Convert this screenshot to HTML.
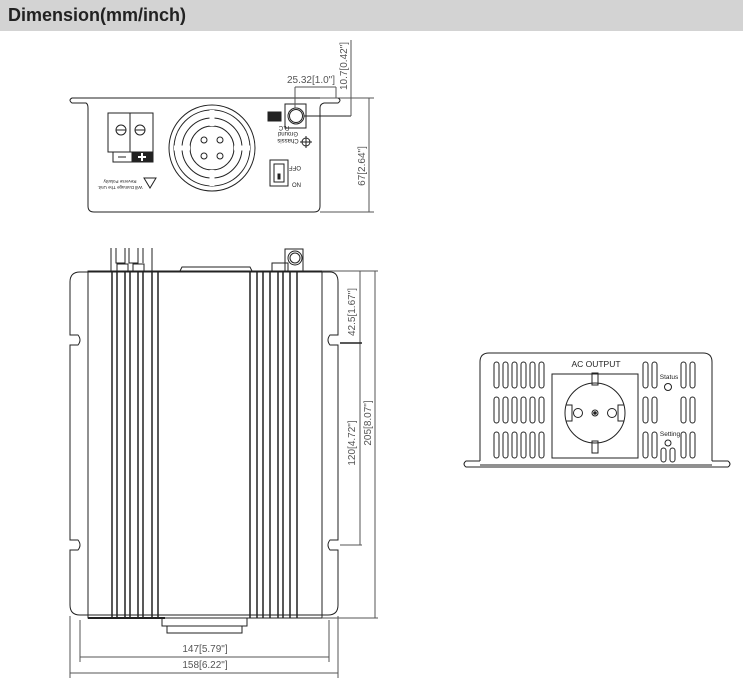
<!DOCTYPE html>
<html><head><style>
body{margin:0;background:#fff;width:743px;height:683px;overflow:hidden;font-family:"Liberation Sans",sans-serif}
.hd{position:absolute;left:0;top:0;width:743px;height:31px;background:#d3d3d3}
.hd span{position:absolute;left:8px;top:5px;font-weight:bold;font-size:18px;color:#222}
svg{position:absolute;left:0;top:0}
</style></head><body>
<div class="hd"><span>Dimension(mm/inch)</span></div>
<svg width="743" height="683" viewBox="0 0 743 683" fill="none" stroke="#222" stroke-width="1">
<!-- TOP VIEW -->
<path d="M88 98 L72 98 Q68 100 72 103 L86 103 Q88 104 88 108 L88 206 Q88 212 94 212 L314 212 Q320 212 320 206 L320 108 Q320 104 324 103 L338 103 Q342 100 338 98 Z" />
<line x1="88" y1="98" x2="320" y2="98"/>
<rect x="108" y="113" width="45" height="39"/>
<line x1="130" y1="113" x2="130" y2="152"/>
<circle cx="121" cy="130" r="5"/><line x1="116" y1="130" x2="126" y2="130"/>
<circle cx="140" cy="130" r="5"/><line x1="135" y1="130" x2="145" y2="130"/>
<rect x="113" y="152" width="40" height="10"/>
<rect x="132" y="152" width="21" height="10" fill="#222"/>
<line x1="118" y1="157" x2="126" y2="157"/>
<line x1="138" y1="157" x2="146" y2="157" stroke="#fff" stroke-width="2"/><line x1="142" y1="153" x2="142" y2="161" stroke="#fff" stroke-width="2"/>
<path d="M144 178 L156 178 L150 188 Z"/>
<text x="0" y="0" font-size="4.5" fill="#222" stroke="none" text-anchor="middle" transform="translate(120 180) rotate(180)">Reverse Polarity</text>
<text x="0" y="0" font-size="4.5" fill="#222" stroke="none" text-anchor="middle" transform="translate(120 186) rotate(180)">Will Damage The Unit.</text>
<circle cx="212" cy="148" r="43"/><circle cx="212" cy="148" r="38"/>
<circle cx="212" cy="148" r="30"/><circle cx="212" cy="148" r="22"/>
<line x1="212" y1="110" x2="212" y2="126" stroke-width="5" stroke="#fff"/>
<line x1="212" y1="170" x2="212" y2="186" stroke-width="5" stroke="#fff"/>
<line x1="174" y1="148" x2="190" y2="148" stroke-width="5" stroke="#fff"/>
<line x1="234" y1="148" x2="250" y2="148" stroke-width="5" stroke="#fff"/>
<circle cx="204" cy="140" r="3"/><circle cx="220" cy="140" r="3"/><circle cx="204" cy="156" r="3"/><circle cx="220" cy="156" r="3"/>
<rect x="270" y="160" width="18" height="26"/><rect x="274" y="164" width="10" height="18"/><rect x="278" y="174" width="2" height="5" fill="#222"/>
<text x="0" y="0" font-size="6" fill="#222" stroke="none" text-anchor="middle" transform="translate(295 166) rotate(180)">OFF</text>
<text x="292" y="187" font-size="6" fill="#222" stroke="none">ON</text>
<rect x="285" y="104" width="21" height="24"/><circle cx="296" cy="116" r="8"/><circle cx="296" cy="116" r="6.5"/>
<rect x="268" y="112" width="13" height="9" fill="#222"/>
<text x="0" y="0" font-size="6" fill="#222" stroke="none" text-anchor="middle" transform="translate(284 126) rotate(180)">R.C</text>
<text x="0" y="0" font-size="6" fill="#222" stroke="none" text-anchor="middle" transform="translate(288 132) rotate(180)">Ground</text>
<text x="0" y="0" font-size="6" fill="#222" stroke="none" text-anchor="middle" transform="translate(288 139) rotate(180)">Chassis</text>
<circle cx="306" cy="142" r="4"/><line x1="300" y1="142" x2="312" y2="142"/><line x1="306" y1="136" x2="306" y2="148"/>
<line x1="295" y1="108" x2="295" y2="87" stroke="#555"/><line x1="336" y1="87" x2="336" y2="98" stroke="#555"/><line x1="295" y1="87" x2="336" y2="87" stroke="#555"/>
<text x="311" y="83" font-size="10" fill="#555" stroke="none" text-anchor="middle">25.32[1.0"]</text>
<line x1="304" y1="116" x2="351" y2="116"/><line x1="351" y1="116" x2="351" y2="40" stroke="#555"/>
<text x="0" y="0" font-size="10" fill="#555" stroke="none" text-anchor="middle" transform="translate(347 66) rotate(-90)">10.7[0.42"]</text>
<line x1="320" y1="98" x2="374" y2="98" stroke="#555"/><line x1="320" y1="212" x2="374" y2="212" stroke="#555"/>
<line x1="369" y1="98" x2="369" y2="212" stroke="#555"/>
<text x="0" y="0" font-size="10" fill="#555" stroke="none" text-anchor="middle" transform="translate(365 166) rotate(-90)">67[2.64"]</text>
<!-- MAIN VIEW -->
<path d="M80 272 L330 272 Q338 272 338 282 L338 335 L330 335 Q326 340 330 345 L338 345 L338 540 L330 540 Q326 545 330 550 L338 550 L338 605 Q338 615 328 615 L80 615 Q70 615 70 605 L70 550 L78 550 Q82 545 78 540 L70 540 L70 345 L78 345 Q82 340 78 335 L70 335 L70 282 Q70 272 80 272 Z"/>
<rect x="88" y="271" width="234" height="347"/>
<g stroke-width="1.5">
<line x1="112" y1="271" x2="112" y2="618"/><line x1="117" y1="271" x2="117" y2="618"/><line x1="125" y1="271" x2="125" y2="618"/><line x1="130" y1="271" x2="130" y2="618"/><line x1="138" y1="271" x2="138" y2="618"/><line x1="143" y1="271" x2="143" y2="618"/><line x1="152" y1="271" x2="152" y2="618"/><line x1="158" y1="271" x2="158" y2="618"/>
<line x1="250" y1="271" x2="250" y2="618"/><line x1="257" y1="271" x2="257" y2="618"/><line x1="263" y1="271" x2="263" y2="618"/><line x1="270" y1="271" x2="270" y2="618"/><line x1="278" y1="271" x2="278" y2="618"/><line x1="283" y1="271" x2="283" y2="618"/><line x1="290" y1="271" x2="290" y2="618"/><line x1="297" y1="271" x2="297" y2="618"/>
</g>
<line x1="88" y1="618" x2="165" y2="618" stroke-width="2"/>
<path d="M111 271 L111 248 M116 248 L116 263 L125 263 L125 248 M129 248 L129 263 L138 263 L138 248 M143 248 L143 263 M152 271 L152 248"/>
<rect x="117" y="264" width="11" height="7"/><rect x="133" y="264" width="11" height="7"/>
<path d="M180 271 L182 267 L250 267 L252 271"/>
<rect x="272" y="263" width="16" height="8"/><rect x="285" y="249" width="18" height="22"/><circle cx="295" cy="258" r="7"/><circle cx="295" cy="258" r="5"/>
<rect x="162" y="618" width="85" height="8"/><rect x="167" y="626" width="75" height="7"/>
<line x1="80" y1="620" x2="80" y2="662" stroke="#555"/><line x1="329" y1="620" x2="329" y2="662" stroke="#555"/>
<line x1="80" y1="657" x2="329" y2="657" stroke="#555"/>
<text x="205" y="652" font-size="10" fill="#555" stroke="none" text-anchor="middle">147[5.79"]</text>
<line x1="70" y1="616" x2="70" y2="678" stroke="#555"/><line x1="338" y1="616" x2="338" y2="678" stroke="#555"/>
<line x1="70" y1="673" x2="338" y2="673" stroke="#555"/>
<text x="205" y="668" font-size="10" fill="#555" stroke="none" text-anchor="middle">158[6.22"]</text>
<line x1="322" y1="271" x2="378" y2="271" stroke="#555"/><line x1="322" y1="618" x2="378" y2="618" stroke="#555"/>
<line x1="375" y1="271" x2="375" y2="618" stroke="#555"/>
<line x1="360" y1="271" x2="360" y2="545" stroke="#555"/>
<line x1="340" y1="343" x2="362" y2="343" stroke-width="1.5"/><line x1="340" y1="545" x2="362" y2="545" stroke="#555"/>
<text x="0" y="0" font-size="10" fill="#555" stroke="none" text-anchor="middle" transform="translate(355 312) rotate(-90)">42.5[1.67"]</text>
<text x="0" y="0" font-size="10" fill="#555" stroke="none" text-anchor="middle" transform="translate(355 443) rotate(-90)">120[4.72"]</text>
<text x="0" y="0" font-size="10" fill="#555" stroke="none" text-anchor="middle" transform="translate(371 423) rotate(-90)">205[8.07"]</text>
<!-- RIGHT VIEW -->
<path d="M480 461 L480 362 Q480 353 489 353 L703 353 Q712 353 712 362 L712 461"/>
<path d="M480 461 L466 461 Q462 464 466 467 L728 467 Q732 464 728 461 L712 461"/>
<line x1="480" y1="465" x2="712" y2="465"/>
<rect x="552" y="374" width="86" height="84"/>
<text x="596" y="367" font-size="8.5" fill="#222" stroke="none" text-anchor="middle">AC OUTPUT</text>
<circle cx="595" cy="413" r="30"/>
<path d="M566 405 L572 405 L572 421 L566 421 M624 405 L618 405 L618 421 L624 421"/>
<rect x="592" y="373" width="6" height="12"/><rect x="592" y="441" width="6" height="12"/>
<circle cx="578" cy="413" r="4.5"/><circle cx="612" cy="413" r="4.5"/><circle cx="595" cy="413" r="3"/><circle cx="595" cy="413" r="1.3" fill="#222"/>
<g>
<rect x="494" y="362" width="5" height="26" rx="2.5"/><rect x="503" y="362" width="5" height="26" rx="2.5"/><rect x="512" y="362" width="5" height="26" rx="2.5"/><rect x="521" y="362" width="5" height="26" rx="2.5"/><rect x="530" y="362" width="5" height="26" rx="2.5"/><rect x="539" y="362" width="5" height="26" rx="2.5"/>
<rect x="494" y="397" width="5" height="26" rx="2.5"/><rect x="503" y="397" width="5" height="26" rx="2.5"/><rect x="512" y="397" width="5" height="26" rx="2.5"/><rect x="521" y="397" width="5" height="26" rx="2.5"/><rect x="530" y="397" width="5" height="26" rx="2.5"/><rect x="539" y="397" width="5" height="26" rx="2.5"/>
<rect x="494" y="432" width="5" height="26" rx="2.5"/><rect x="503" y="432" width="5" height="26" rx="2.5"/><rect x="512" y="432" width="5" height="26" rx="2.5"/><rect x="521" y="432" width="5" height="26" rx="2.5"/><rect x="530" y="432" width="5" height="26" rx="2.5"/><rect x="539" y="432" width="5" height="26" rx="2.5"/>
<rect x="643" y="362" width="5" height="26" rx="2.5"/><rect x="652" y="362" width="5" height="26" rx="2.5"/><rect x="643" y="397" width="5" height="26" rx="2.5"/><rect x="652" y="397" width="5" height="26" rx="2.5"/><rect x="643" y="432" width="5" height="26" rx="2.5"/><rect x="652" y="432" width="5" height="26" rx="2.5"/>
<rect x="681" y="362" width="5" height="26" rx="2.5"/><rect x="690" y="362" width="5" height="26" rx="2.5"/><rect x="681" y="397" width="5" height="26" rx="2.5"/><rect x="690" y="397" width="5" height="26" rx="2.5"/><rect x="681" y="432" width="5" height="26" rx="2.5"/><rect x="690" y="432" width="5" height="26" rx="2.5"/>
<rect x="661" y="448" width="5" height="14" rx="2.5"/><rect x="670" y="448" width="5" height="14" rx="2.5"/>
</g>
<text x="669" y="379" font-size="6.5" fill="#222" stroke="none" text-anchor="middle">Status</text>
<circle cx="668" cy="387" r="3.5"/>
<text x="670" y="436" font-size="6.5" fill="#222" stroke="none" text-anchor="middle">Setting</text>
<circle cx="668" cy="443" r="3"/>
</svg>
</body></html>
